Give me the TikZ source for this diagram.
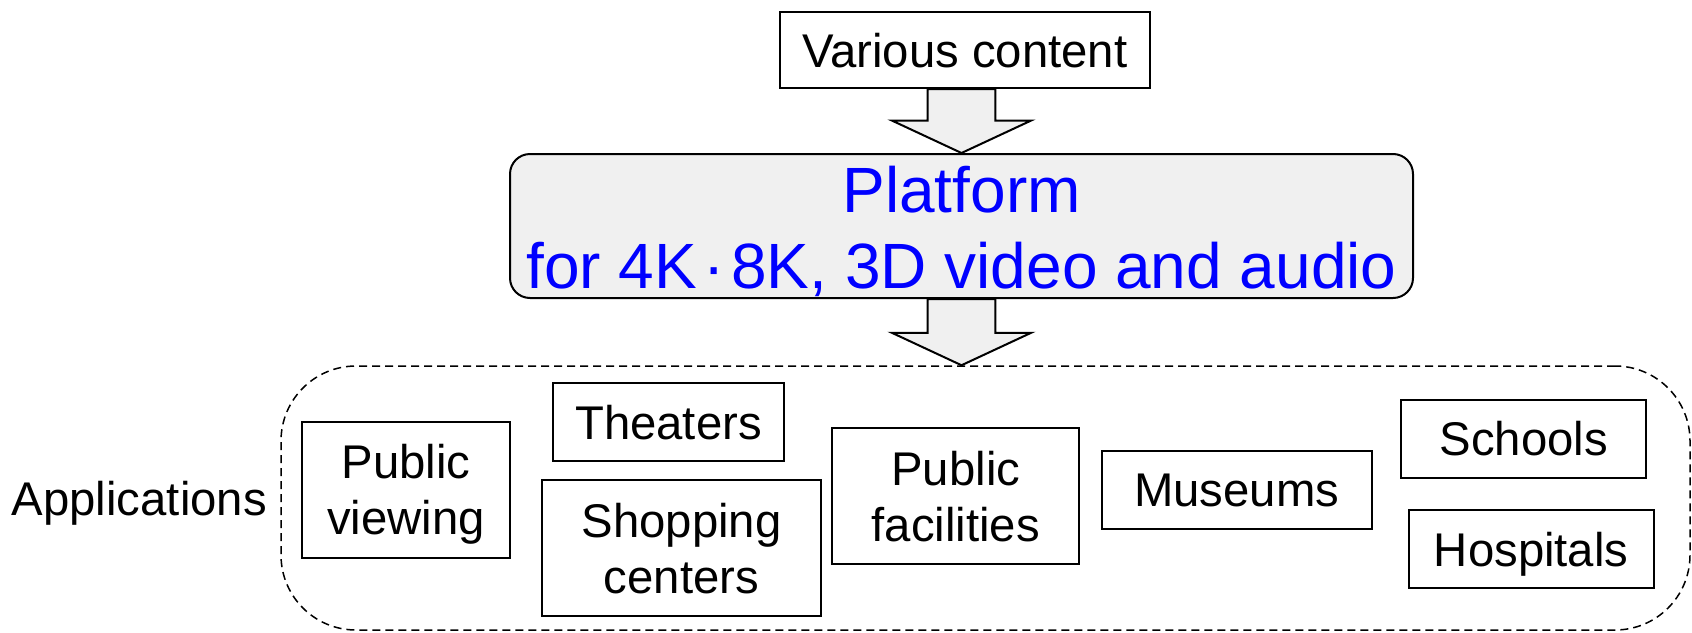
\documentclass[tikz,border=0pt]{standalone}
\usepackage{fontspec}
\setmainfont{Liberation Sans}
\usetikzlibrary{calc}

\definecolor{platgray}{HTML}{F0F0F0}
\definecolor{platblue}{RGB}{0,0,255}

% broad block arrow pointing down: shaft from the first point, tip at the second
\newcommand\downblock[2]{%
  \draw[blockarrow] let \p1=#1, \p2=#2 in
    (\x2-16.9pt,\y1) -- (\x2-16.9pt,\y2+16.2pt) -- (\x2-34.75pt,\y2+16.2pt) -- (\x2,\y2)
    -- (\x2+34.75pt,\y2+16.2pt) -- (\x2+16.9pt,\y2+16.2pt) -- (\x2+16.9pt,\y1) -- cycle;}

\tikzset{
  txt/.style={font=\fontsize{23.65}{28}\selectfont},
  box/.style 2 args={draw, line width=1pt, inner sep=0pt, align=center, txt,
    minimum width=#1, minimum height=#2, text depth=0pt},
  platbox/.style={draw, line width=1pt, fill=platgray, rounded corners=10pt,
    minimum width=451.5pt, minimum height=72pt, inner sep=0pt},
  plattext/.style={text=platblue, align=center, inner sep=0pt,
    font=\fontsize{32}{38}\selectfont},
  appregion/.style={draw, line width=0.75pt, dash pattern=on 4pt off 2.5pt,
    rounded corners=37.5pt, minimum width=704.5pt, minimum height=132pt, inner sep=0pt},
  blockarrow/.style={draw, line width=1pt, fill=platgray, line join=miter},
}

\begin{document}
\begin{tikzpicture}[x=0.5pt, y=-0.5pt]
\useasboundingbox (0,0) rectangle (1692,632);

% source and platform
\node[box={185.25pt}{38pt}] (vc) at (964.75,50) {Various content};
\node[platbox] (plat) at (961.5,226) {};
\node[plattext] (ptxt) at ([yshift=-2.5pt]plat.center)
  {Platform\\for 4K\hspace{0.1em}·\hspace{0.1em}8K, 3D video and audio};

% region of applications
\node[appregion] (apps) at (985.5,498) {};
\node[txt, anchor=east, text depth=0pt, inner sep=0pt] (applabel)
  at ([xshift=-6.5pt]apps.west) {Applications};

\node[box={104pt}{68pt}]       (pv)  at (406,489.7)     {Public\\viewing};
\node[box={115.5pt}{38.7pt}]   (th)  at (668.5,422)     {Theaters};
\node[box={139.5pt}{68pt}]     (sc)  at (681.5,548)     {Shopping\\centers};
\node[box={123.5pt}{67.85pt}]  (pf)  at (955.85,496.15) {Public\\facilities};
\node[box={135.1pt}{39.15pt}]  (mu)  at (1236.6,489.85) {Museums};
\node[box={122.7pt}{38.85pt}]  (sch) at (1523.7,438.85) {Schools};
\node[box={122.6pt}{39.15pt}]  (ho)  at (1531.2,549.15) {Hospitals};

% flow arrows
\downblock{(vc.south)}{(plat.north)}
\downblock{(plat.south)}{(plat.south |- apps.north)}
\end{tikzpicture}
\end{document}
